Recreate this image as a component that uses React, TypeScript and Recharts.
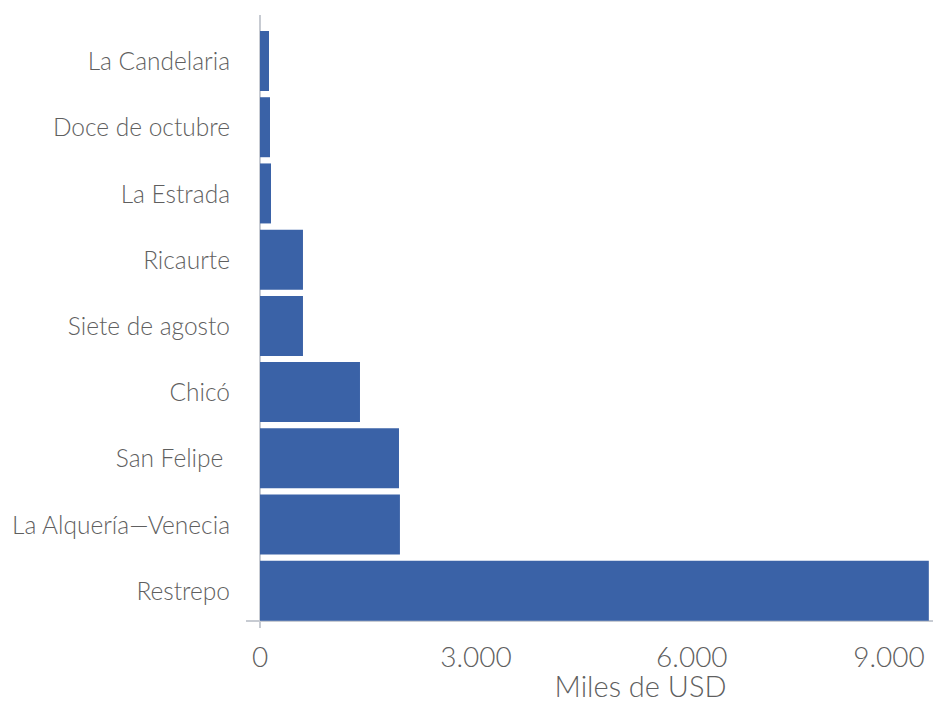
import React from 'react';
import * as Recharts from 'recharts';
import { BarChart, Bar, XAxis, YAxis } from 'recharts';

const categories = [
  'La Candelaria',
  'Doce de octubre',
  'La Estrada',
  'Ricaurte',
  'Siete de agosto',
  'Chicó',
  'San Felipe ',
  'La Alquería—Venecia',
  'Restrepo',
];
const values = [125, 139, 153, 597, 597, 1389, 1931, 1944, 9292];
const xTicks = [0, 3000, 6000, 9000];
const xTitle = 'Miles de USD';

const data = categories.map((name, i) => ({ name, value: values[i] }));

const FONT = 'Lato, "Noto Sans", sans-serif';
const TEXT = '#5f5f5f';
const AXIS = '#c7cbd2';
const BAR = '#3a62a7';

const fmt = (v: number) => String(v).replace(/\B(?=(\d{3})+(?!\d))/g, '.');

const YTick = (props: any) => {
  const { x, y, payload } = props;
  return (
    <text x={x} y={y} dy={9} textAnchor="end" fill={TEXT} fontFamily={FONT} fontWeight={300} fontSize={24.5} style={{ whiteSpace: 'pre' }}>
      {payload.value}
    </text>
  );
};

const XTick = (props: any) => {
  const { x, y, payload } = props;
  const half = 36;
  const maxRight = 925;
  const cx = x + half > maxRight ? maxRight - half : x;
  return (
    <text x={cx} y={y + 43} textAnchor="middle" fill={TEXT} fontFamily={FONT} fontWeight={300} fontSize={28}>
      {fmt(payload.value)}
    </text>
  );
};

const AxisLines = () => {
  const hook = (Recharts as any).usePlotArea;
  const area = hook ? hook() : null;
  if (!area) return null;
  const { x, y, width, height } = area;
  const bottom = y + height - 3;
  return (
    <g>
      <line x1={x} x2={x} y1={y - 13} y2={bottom + 7} stroke={AXIS} strokeWidth={2} />
      <line x1={x - 14} x2={x + width} y1={bottom} y2={bottom} stroke={AXIS} strokeWidth={2} />
    </g>
  );
};

export default function App() {
  return (
    <div style={{ position: 'absolute', left: 0, top: 0, width: 933, height: 701, background: '#fff' }}>
      <BarChart
        width={933}
        height={701}
        data={data}
        layout="vertical"
        margin={{ top: 28, right: 0, bottom: 0, left: 0 }}
        barCategoryGap={0}
      >
        <XAxis
          type="number"
          domain={[0, 9350]}
          ticks={xTicks}
          allowDataOverflow
          axisLine={false}
          tickLine={false}
          tickSize={0}
          tickMargin={0}
          height={77}
          tick={<XTick />}
          interval={0}
          label={(p: any) => {
            const vb = p.viewBox || {};
            return (
              <text x={(vb.x ?? 260) + (vb.width ?? 673) / 2 + 44} y={(vb.y ?? 624) + 73} textAnchor="middle" fill={TEXT} fontFamily={FONT} fontWeight={300} fontSize={29}>
                {xTitle}
              </text>
            );
          }}
        />
        <YAxis
          type="category"
          dataKey="name"
          width={260}
          axisLine={false}
          tickLine={false}
          tickSize={0}
          tickMargin={30}
          interval={0}
          tick={<YTick />}
        />
        <Bar dataKey="value" fill={BAR} barSize={60} isAnimationActive={false} />
        <AxisLines />
      </BarChart>
    </div>
  );
}
